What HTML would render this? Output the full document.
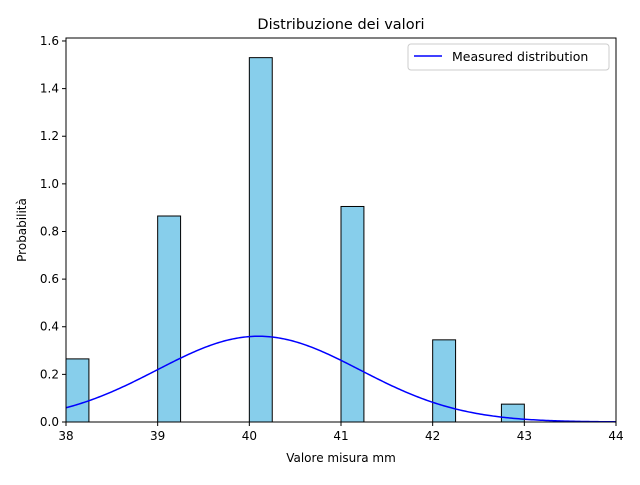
<!DOCTYPE html>
<html><head><meta charset="utf-8"><style>
body{margin:0;background:#fff;font-family:"Liberation Sans","DejaVu Sans",sans-serif;}
svg text{font-family:"DejaVu Sans","Liberation Sans",sans-serif;}
</style></head><body>
<svg id="chart" width="640" height="480" xmlns="http://www.w3.org/2000/svg">
<rect width="640" height="480" fill="#fff"/>
<g id="bars"></g>
<path id="curve" fill="none" stroke="#0000ff" stroke-width="1.5"/>
<g id="axes"></g>
</svg>
<script>
const binStarts=[38,39,40,41,42,42.75];
const binHeights=[0.265,0.865,1.53,0.905,0.345,0.075];
const binWidth=[0.25];
const fitMean=[40.1];
const fitSigma=[1.108];
const xTicks=[38,39,40,41,42,43,44];
const yTicks=[0,0.2,0.4,0.6,0.8,1.0,1.2,1.4,1.6];
const L=66,R=616,T=38,B=422,xMin=38,xMax=44,yMax=1.6125;
const X=v=>L+(v-xMin)/(xMax-xMin)*(R-L);
const Y=v=>B-v/yMax*(B-T);
const NS="http://www.w3.org/2000/svg";
function mk(tag,attrs,parent,text){const e=document.createElementNS(NS,tag);for(const k in attrs)e.setAttribute(k,attrs[k]);if(text!==undefined)e.textContent=text;parent.appendChild(e);return e;}
const bars=document.getElementById('bars'),axes=document.getElementById('axes');
binStarts.forEach((s,i)=>{
 const r=mk('rect',{x:X(s),y:Y(binHeights[i]),width:X(s+binWidth[0])-X(s),height:B-Y(binHeights[i]),fill:'#87ceeb',stroke:'#000','stroke-width':1},bars);
 
 
});
let d='';
for(let i=0;i<=300;i++){const x=xMin+(xMax-xMin)*i/300;const y=Math.exp(-Math.pow(x-fitMean[0],2)/(2*fitSigma[0]*fitSigma[0]))/(fitSigma[0]*Math.sqrt(2*Math.PI));d+=(i?'L':'M')+X(x).toFixed(2)+','+Y(y).toFixed(2);}
document.getElementById('curve').setAttribute('d',d);
const fr=mk('rect',{x:L,y:T,width:R-L,height:B-T,fill:'none',stroke:'#000','stroke-width':1},axes);


xTicks.forEach(t=>{mk('line',{x1:X(t),x2:X(t),y1:B,y2:B+4,stroke:'#000'},axes);
 const tx=mk('text',{x:X(t),y:B+18,'text-anchor':'middle','font-size':12},axes,String(t));
 
 });
yTicks.forEach(t=>{mk('line',{x1:L-4,x2:L,y1:Y(t),y2:Y(t),stroke:'#000'},axes);
 const tx=mk('text',{x:L-7,y:Y(t)+4,'text-anchor':'end','font-size':12},axes,t.toFixed(1));
 
 });
const ti=mk('text',{x:(L+R)/2,y:29,'text-anchor':'middle','font-size':14.5},axes,'Distribuzione dei valori');

const xl=mk('text',{x:(L+R)/2,y:462,'text-anchor':'middle','font-size':12},axes,'Valore misura mm');

const yl=mk('text',{x:0,y:0,'text-anchor':'middle','font-size':12,transform:'translate(26,230) rotate(-90)'},axes,'Probabilità');

const lg=mk('g',{},axes);

mk('rect',{x:408,y:44,width:201,height:26,rx:3,fill:'#fff',stroke:'#ccc'},lg);
mk('line',{x1:414,x2:442,y1:56,y2:56,stroke:'#0000ff','stroke-width':1.5},lg);
mk('text',{x:452,y:61,'font-size':12.5},lg,'Measured distribution');
</script>
</body></html>
